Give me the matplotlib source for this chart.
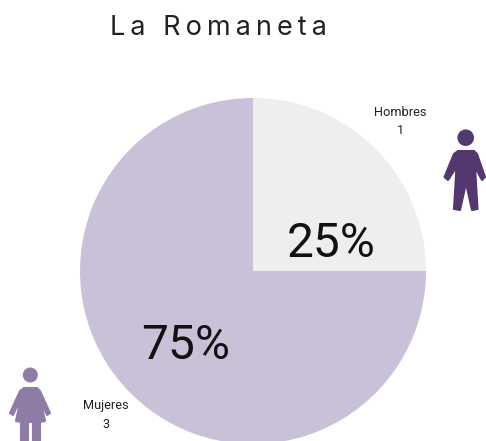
import matplotlib
matplotlib.use("Agg")
import matplotlib.pyplot as plt
from matplotlib.patches import Circle, Polygon

# datos
categorias = ["Hombres", "Mujeres"]
valores = [1, 3]
porcentajes = ["25%", "75%"]
colores = ["#EEEEEE", "#C9C1D8"]
titulo = "La Romaneta"

ANCHO, ALTO = 486, 441

fig = plt.figure(figsize=(ANCHO / 100, ALTO / 100), dpi=100)
ax = fig.add_axes([0, 0, 1, 1])

# el centro y radio estan en pixeles, con y hacia arriba
ax.pie(valores, colors=colores, startangle=90, counterclock=False,
       center=(253, ALTO - 271), radius=173)
ax.set_xlim(0, ANCHO)
ax.set_ylim(0, ALTO)
ax.set_aspect("equal")
ax.axis("off")


def py(y):
    return ALTO - y


def icono(cabeza, r, cuerpo, color):
    ax.add_patch(Circle((cabeza[0], py(cabeza[1])), r, color=color, lw=0))
    puntos = [(x, py(y)) for x, y in cuerpo]
    ax.add_patch(Polygon(puntos, closed=True, fc=color, ec=color, lw=1.5, joinstyle="round"))


# hombre
icono((465.7, 137.7), 8.3,
      [(458, 151), (474, 151), (477, 154), (485, 177), (482, 180), (475, 167),
       (477.5, 209), (472, 210), (466, 183), (460, 210), (454, 209), (456.5, 167),
       (448, 180), (444.5, 177), (454, 154)],
      "#53376F")

# mujer
icono((30.3, 375), 7.5,
      [(24, 388), (37, 388), (40, 391), (50, 413), (47, 415), (40, 398), (45, 421),
       (40, 422), (40, 445), (33, 445), (33, 422), (28, 422), (28, 445), (21, 445),
       (21, 422), (16, 421), (21, 398), (13, 415), (10, 413), (20, 391)],
      "#8F7CA6")

fig.text(218 / ANCHO, py(28) / ALTO, "\u200a\u200a".join(titulo), fontsize=19.5,
         family=["Inter", "DejaVu Sans"], color="#222222", ha="center", va="center")

ax.text(331, py(244), porcentajes[0], fontsize=34.5, family="Roboto",
        color="#111111", ha="center", va="center")
ax.text(186, py(346), porcentajes[1], fontsize=34.5, family="Roboto",
        color="#111111", ha="center", va="center")

ax.text(400, py(113), categorias[0], fontsize=9.2, family="Roboto", color="#222222", ha="center", va="center")
ax.text(400, py(130), str(valores[0]), fontsize=9.2, family="Roboto", color="#222222", ha="center", va="center")
ax.text(105.5, py(405), categorias[1], fontsize=9.2, family="Roboto", color="#222222", ha="center", va="center")
ax.text(105.5, py(424), str(valores[1]), fontsize=9.2, family="Roboto", color="#222222", ha="center", va="center")

fig.savefig("out.png", dpi=100, facecolor="white")
